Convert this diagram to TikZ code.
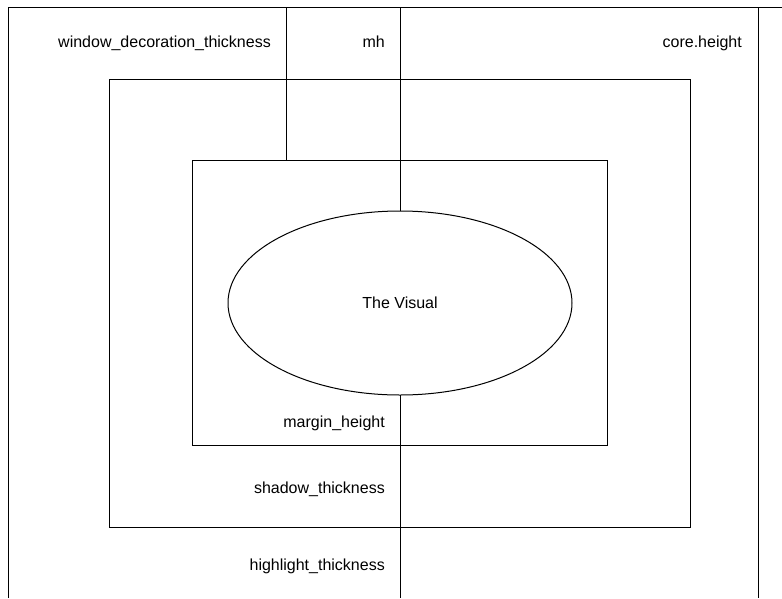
\documentclass[tikz,border=0pt]{standalone}
\usepackage{fontspec}
\setmainfont{Liberation Sans}
\usetikzlibrary{shapes.geometric}
\begin{document}
\begin{tikzpicture}[x=1pt,y=-1pt,
  line/.style={draw=black,line width=1pt},
  boxnode/.style={draw=black,line width=1pt,inner sep=0pt,outer sep=0pt},
  lbl/.style={anchor=base east,inner sep=0pt,font=\fontsize{16}{19}\selectfont}]
\useasboundingbox (0,0) rectangle (782,598);
% outer frame
\draw[line] (8,598) -- (8,7) -- (782,7);
\draw[line] (758,7) -- (758,598);
% boxes
\node[boxnode,minimum width=581pt,minimum height=448pt] (shadow) at (399.5,303) {};
\node[boxnode,minimum width=415pt,minimum height=285pt] (margin) at (399.5,302.5) {};
\node[boxnode,ellipse,minimum width=344pt,minimum height=184pt] (visual) at (400,303) {};
\node[anchor=base,inner sep=0pt,font=\fontsize{16}{19}\selectfont] (vtext) at (400,308) {The Visual};
% connectors
\coordinate (wdt) at (286,7);
\coordinate (mhtop) at (400,7);
\coordinate (bot) at (400,598);
\draw[line] (wdt) -- (wdt |- margin.north);
\draw[line] (mhtop) -- (visual.north);
\draw[line] (visual.south) -- (bot);
% labels
\node[lbl] (l1) at (271,47) {window\_decoration\_thickness};
\node[lbl] (l2) at (385,47) {mh};
\node[lbl] (l3) at (742,47) {core.height};
\node[lbl] (l4) at (385,427) {margin\_height};
\node[lbl] (l5) at (385,493) {shadow\_thickness};
\node[lbl] (l6) at (385,570) {highlight\_thickness};
\end{tikzpicture}
\end{document}
